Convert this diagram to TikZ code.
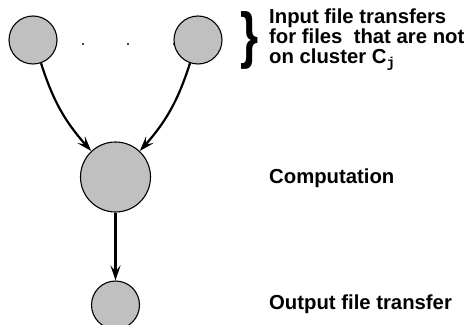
\documentclass[tikz,border=0pt]{standalone}
\usepackage{fontspec}
\setmainfont{Liberation Sans}
\setmonofont{Liberation Mono}
\usetikzlibrary{arrows.meta}
\definecolor{jobgray}{RGB}{192,192,192}
\begin{document}
\begin{tikzpicture}[x=1pt,y=1pt,
        job/.style={circle, draw, line width=1.1pt, fill=jobgray, inner sep=0pt},
        flow/.style={line width=2.2pt, -{Stealth[length=15pt,width=10pt,inset=6pt]}},
        lbl/.style={anchor=base west, inner sep=0pt, font=\fontsize{20.3}{20}\selectfont\bfseries, align=left}]

        \useasboundingbox (0,0) rectangle (470,324);

        \node [job, minimum size=48pt] (in1) at (33,284) {};
        \node [job, minimum size=48pt] (inN) at (198,284) {};
        \node [job, minimum size=70pt] (comp) at (115.5,147) {};
        \node [job, minimum size=48pt] (out) at (115.5,19) {};

        \fill (83,280) circle [radius=1.2pt];
        \fill (128,280) circle [radius=1.2pt];
        \fill (174,280) circle [radius=1.2pt];

        \draw[flow] (in1) to[bend right=12] (comp);
        \draw[flow] (inN) to[bend left=12] (comp);
        \draw[flow] (comp) -- (out);

        \node [inner sep=0pt, xscale=0.75, font=\fontsize{62}{62}\selectfont\bfseries] (brace) at (250,284) {\}};

        \node [lbl] (inlbl) at (269,260) {Input file transfers\\for files~ that are not\\on cluster C\textsubscript{\ttfamily j}};
        \node [lbl] (complbl) at (269,141) {Computation};
        \node [lbl] (outlbl) at (269,15) {Output file transfer};

    \end{tikzpicture}
\end{document}
